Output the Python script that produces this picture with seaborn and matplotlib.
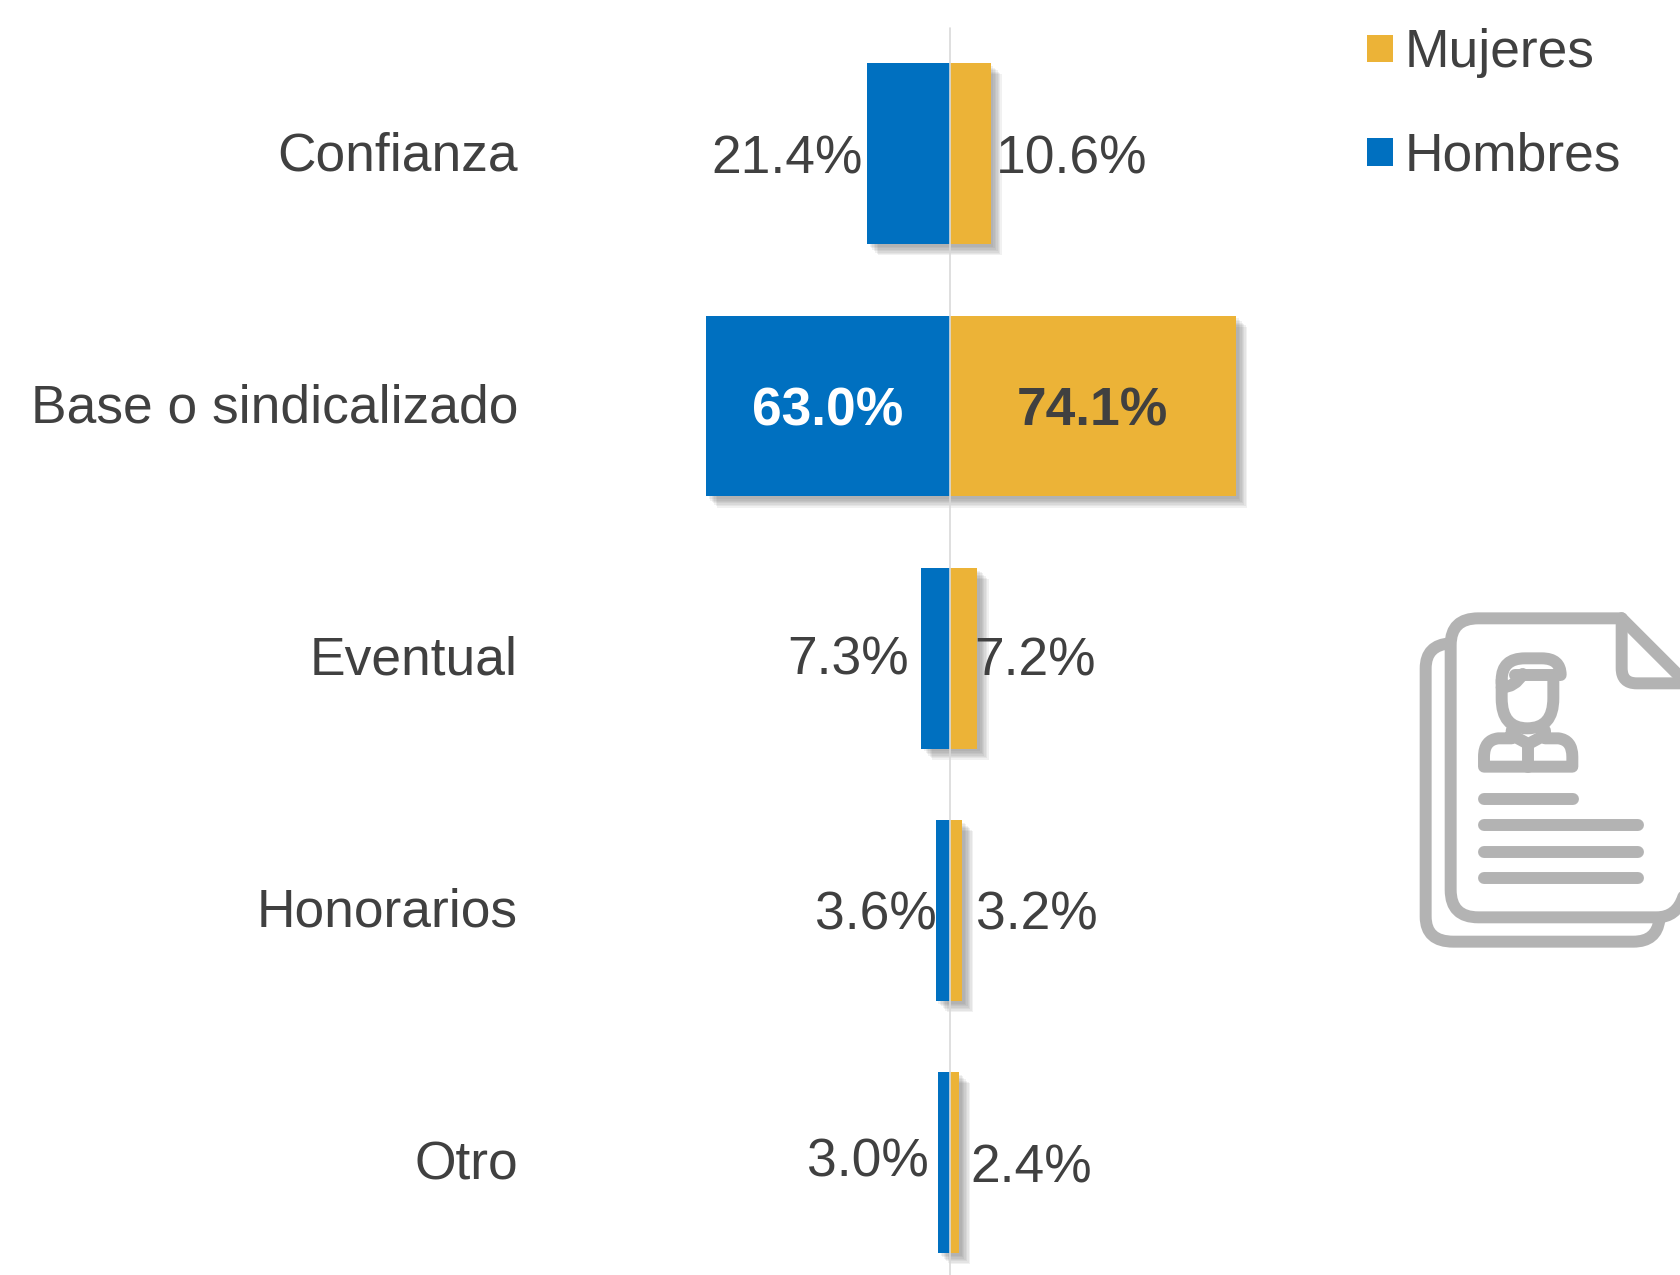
import matplotlib
matplotlib.use("Agg")
import matplotlib.pyplot as plt
import matplotlib.patheffects as pe
from matplotlib.path import Path
from matplotlib.patches import PathPatch
from matplotlib.transforms import ScaledTranslation
import pandas as pd
import seaborn as sns

categories = ["Confianza", "Base o sindicalizado", "Eventual", "Honorarios", "Otro"]
hombres = [21.4, 63.0, 7.3, 3.6, 3.0]
mujeres = [10.6, 74.1, 7.2, 3.2, 2.4]
series_names = ["Hombres", "Mujeres"]
series_colors = ["#0070C0", "#ECB337"]

# hand-placed label nudges of the original, in pixels from the bar end (x) and category centre (y)
hombres_nudge = [(-4, 6), (None, 6), (-13, 2), (1, 5.5), (-9, 0)]
mujeres_nudge = [(5, 6), (None, 6), (-3, 3), (14, 5.5), (11, 6)]

sns.set_theme(style="white")
plt.rcParams["font.family"] = ["Liberation Sans", "DejaVu Sans"]
GREY = "#404040"
FS = 38.45
PX = 72 / 100

W, H = 1681, 1275
fig = plt.figure(figsize=(W / 100, H / 100), dpi=100, facecolor="white")
AX_L = 524
ax = fig.add_axes([AX_L / W, 0, 1 - AX_L / W, 1], facecolor="none")

df = pd.DataFrame({
    "cat": categories * 2,
    "serie": [series_names[0]] * 5 + [series_names[1]] * 5,
    "val": [-v for v in hombres] + mujeres,
})
sns.barplot(data=df, x="val", y="cat", hue="serie", order=categories, hue_order=series_names,
            palette=series_colors, dodge=False, width=0.717, saturation=1, orient="h",
            ax=ax, legend=True, linewidth=0)

SCALE = 3.865
X0 = 949.6
ax.set_xlim((AX_L - X0) / SCALE, (W - X0) / SCALE)
SP, Y0 = 252.2, 153.8
ax.set_ylim((H - Y0) / SP, -Y0 / SP)
ax.set_xlabel(""); ax.set_ylabel("")
ax.set_xticks([])
ax.tick_params(axis="y", length=0, pad=6 * PX, labelsize=FS, labelcolor=GREY)
for lab in ax.get_yticklabels():
    lab.set_transform(lab.get_transform() + ScaledTranslation(0, 3 / 100, fig.dpi_scale_trans))
sns.despine(ax=ax, left=True, bottom=True)
ax.axvline(0, ymin=0, ymax=1 - 28 / H, color="#D9D9D9", lw=1.2, zorder=5)

# legend
handles, labels = ax.get_legend_handles_labels()
order = [labels.index("Mujeres"), labels.index("Hombres")]
leg = ax.legend([handles[i] for i in order], [labels[i] for i in order],
                loc="upper left", bbox_to_anchor=((1367 - AX_L) / (W - AX_L), 1 - 28.5 / H),
                frameon=False, fontsize=FS, labelcolor=GREY, borderaxespad=0, borderpad=0,
                handlelength=0.49, handleheight=0.42, handletextpad=0.21, labelspacing=1.0)

# soft shadows
shadow = [pe.SimplePatchShadow(offset=(o, -o), shadow_rgbFace="#555555", alpha=0.08, rho=1)
          for o in (8, 7, 6, 5, 4, 3, 2)] + [pe.Normal()]
for cont in ax.containers:
    for b in cont:
        b.set_path_effects(shadow)

# data labels
for i, (h, m) in enumerate(zip(hombres, mujeres)):
    hn, mn = hombres_nudge[i], mujeres_nudge[i]
    if hn[0] is None:
        ax.annotate(f"{h:.1f}%", (-h / 2, i), xytext=(0, -hn[1] * PX), textcoords="offset points",
                    ha="center", va="center", fontsize=FS, fontweight="bold", color="white", zorder=6)
        ax.annotate(f"{m:.1f}%", (m / 2, i), xytext=(0, -mn[1] * PX), textcoords="offset points",
                    ha="center", va="center", fontsize=FS, fontweight="bold", color=GREY, zorder=6)
    else:
        ax.annotate(f"{h:.1f}%", (-h, i), xytext=(hn[0] * PX, -hn[1] * PX), textcoords="offset points",
                    ha="right", va="center", fontsize=FS, color=GREY, zorder=6)
        ax.annotate(f"{m:.1f}%", (m, i), xytext=(mn[0] * PX, -mn[1] * PX), textcoords="offset points",
                    ha="left", va="center", fontsize=FS, color=GREY, zorder=6)

# decorative document icon
icon = fig.add_axes([1400 / W, 1 - 960 / H, 281 / W, 360 / H], facecolor="none")
icon.set_xlim(0, 843); icon.set_ylim(1080, 0); icon.axis("off")
M, L, Q = Path.MOVETO, Path.LINETO, Path.CURVE3
icon_paths = [
    [(M, 150, 130), (Q, 77, 135), (Q, 77, 205), (L, 77, 950), (Q, 77, 1025), (Q, 160, 1025), (L, 700, 1025), (Q, 770, 1025), (Q, 778, 960)],
    [(M, 665, 55), (L, 235, 55), (Q, 152, 55), (Q, 152, 135), (L, 152, 870), (Q, 152, 952), (Q, 235, 952), (L, 770, 952), (Q, 830, 952), (Q, 850, 890), (L, 850, 250)],
    [(M, 665, 55), (L, 850, 240)],
    [(M, 850, 250), (L, 710, 250), (Q, 665, 250), (Q, 665, 205), (L, 665, 55)],
    [(M, 305, 250), (L, 305, 240), (Q, 305, 175), (Q, 375, 175), (L, 425, 175), (Q, 482, 175), (Q, 482, 225), (L, 345, 225)],
    [(M, 305, 240), (L, 305, 295), (Q, 305, 385), (Q, 382, 385), (Q, 460, 385), (Q, 460, 295), (L, 460, 235)],
    [(M, 305, 262), (Q, 345, 262), (Q, 368, 222)],
    [(M, 335, 392), (L, 335, 415), (L, 295, 415), (Q, 252, 420), (Q, 252, 470), (L, 252, 500), (L, 517, 500), (L, 517, 470), (Q, 517, 420), (Q, 475, 415), (L, 435, 415), (L, 435, 392)],
    [(M, 335, 405), (L, 385, 432), (L, 435, 405)],
    [(M, 385, 432), (L, 385, 500)],
    [(M, 252, 597), (L, 518, 597)],
    [(M, 252, 676), (L, 715, 676)],
    [(M, 252, 755), (L, 715, 755)],
    [(M, 252, 833), (L, 715, 833)],
]
for spec in icon_paths:
    codes = [s[0] for s in spec]
    verts = [(s[1], s[2]) for s in spec]
    icon.add_patch(PathPatch(Path(verts, codes), fill=False, edgecolor="#B3B3B3", lw=8.6,
                             capstyle="round", joinstyle="round", clip_on=True))

fig.savefig("out.png", dpi=100)
